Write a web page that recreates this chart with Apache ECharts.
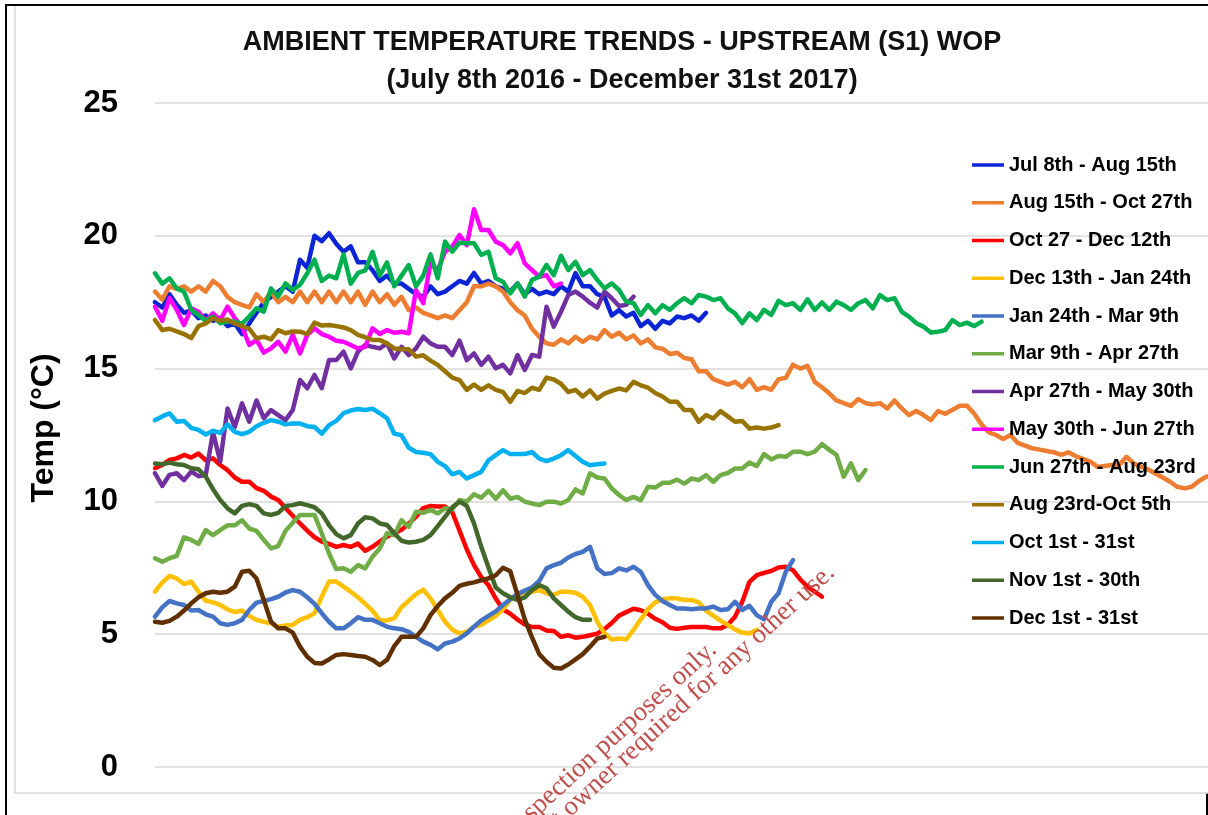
<!DOCTYPE html>
<html><head><meta charset="utf-8">
<script src="https://cdn.jsdelivr.net/npm/echarts@6/dist/echarts.min.js"></script>
<style>html,body{margin:0;padding:0;background:#fff}#c{width:1208px;height:815px}</style>
</head><body><div id="c"></div><script>
// Legend / series names
const seriesNames = ['Jul 8th - Aug 15th','Aug 15th - Oct 27th','Oct 27 - Dec 12th','Dec 13th - Jan 24th','Jan 24th - Mar 9th','Mar 9th - Apr 27th','Apr 27th - May 30th','May 30th - Jun 27th','Jun 27th - Aug 23rd','Aug 23rd-Oct 5th','Oct 1st - 31st','Nov 1st - 30th','Dec 1st - 31st'];
// y-axis ticks
const yTicks = [0,5,10,15,20,25];
// Temperature readings (°C), one value every half day from the start of each period
const jul8Aug15 = [17.5,17.3,17.8,17.4,17.1,17.2,16.9,17.0,16.8,16.9,16.6,16.7,16.3,16.7,17.1,17.5,17.7,17.9,18.1,17.9,19.1,18.8,20.0,19.8,20.1,19.7,19.4,19.6,19.0,19.0,18.7,18.3,18.5,18.2,18.2,18.0,17.8,17.7,18.1,17.8,
17.9,18.1,18.3,18.2,18.6,18.2,18.3,18.1,18.0,17.9,18.2,17.8,18.0,17.8,17.9,17.8,18.1,17.9,18.6,18.1,18.1,17.8,17.7,17.0,17.2,16.96,17.1,16.6,16.8,16.5,16.8,16.7,16.96,16.9,17.0,16.8,17.1];
const aug15Oct27 = [17.9,17.6,18.1,18.0,18.1,17.9,18.1,17.9,18.3,18.1,17.7,17.5,17.4,17.3,17.8,17.5,17.9,17.5,17.7,17.5,17.9,17.5,17.9,17.5,17.9,17.5,17.9,17.5,17.9,17.4,17.9,17.5,17.8,17.4,17.7,17.2,17.3,17.1,17.0,16.9,
17.0,16.9,17.2,17.5,18.1,18.1,18.2,18.1,17.9,17.5,17.2,17.0,16.5,16.2,15.95,15.9,16.1,15.95,16.2,16.0,16.2,16.1,16.45,16.2,16.35,16.1,16.25,15.95,16.1,15.8,15.75,15.55,15.6,15.4,15.35,14.9,14.9,
14.6,14.5,14.4,14.5,14.3,14.6,14.2,14.3,14.2,14.6,14.65,15.15,15.0,15.1,14.5,14.3,14.07,13.8,13.7,13.6,13.85,13.7,13.65,13.7,13.5,13.8,13.5,13.25,13.4,13.25,13.06,13.4,13.3,13.45,13.6,13.6,13.3,12.9,12.6,12.5,12.35,12.5,12.2,12.1,12.0,11.95,11.9,
11.85,11.75,11.85,11.7,11.6,11.5,11.3,11.33,11.37,11.37,11.68,11.43,11.3,11.2,11.05,10.9,10.74,10.55,10.49,10.55,10.77,10.93,11.0];
const oct27Dec12 = [11.25,11.37,11.56,11.62,11.75,11.65,11.8,11.55,11.62,11.37,11.18,10.9,10.74,10.74,10.5,10.4,10.18,10.05,9.75,9.46,9.17,8.9,8.65,8.49,8.4,8.29,8.36,8.29,8.41,8.14,8.29,8.49,8.67,8.8,8.93,9.17,9.42,9.75,9.83,9.81,
9.81,9.6,8.9,8.2,7.6,7.15,6.84,6.34,5.93,5.77,5.55,5.37,5.27,5.27,5.14,5.12,4.9,4.96,4.87,4.9,4.96,5.02,5.2,5.42,5.7,5.83,5.96,5.9,5.77,5.58,5.45,5.24,5.2,5.24,5.27,5.27,5.27,5.22,5.22,5.35,5.66,6.22,6.97,7.22,7.31,7.38,7.51,7.54,7.41,7.06,6.79,6.6,6.41];
const dec13Jan24 = [6.6,6.94,7.2,7.1,6.89,6.98,6.6,6.26,6.2,6.1,5.94,5.83,5.89,5.69,5.54,5.47,5.41,5.28,5.33,5.35,5.54,5.64,5.79,6.42,6.98,6.98,6.79,6.6,6.39,6.14,5.89,5.52,5.52,5.6,6.02,6.26,6.51,6.68,6.35,5.91,
5.47,5.18,5.03,5.09,5.28,5.35,5.52,5.69,5.94,6.29,6.51,6.54,6.6,6.66,6.54,6.48,6.6,6.6,6.56,6.41,6.1,5.47,5.03,4.8,4.84,4.8,5.16,5.56,5.94,6.2,6.32,6.35,6.35,6.29,6.29,6.2,5.89,5.7,5.51,5.35,5.18,5.06,5.03,5.16];
const jan24Mar9 = [5.66,6.01,6.25,6.16,6.1,5.89,5.91,5.75,5.66,5.41,5.35,5.41,5.54,5.91,6.19,6.25,6.32,6.41,6.57,6.66,6.6,6.39,6.14,5.79,5.47,5.22,5.22,5.41,5.64,5.54,5.54,5.41,5.28,5.22,5.19,5.09,4.9,4.72,4.6,4.43,
4.65,4.72,4.84,5.03,5.28,5.52,5.69,5.86,6.1,6.32,6.51,6.64,6.76,7.01,7.48,7.6,7.69,7.89,8.02,8.1,8.29,7.48,7.27,7.3,7.48,7.4,7.54,7.35,6.85,6.48,6.25,6.1,5.97,5.97,5.94,5.97,5.97,6.04,5.91,5.94,6.22,5.91,6.07,5.72,5.56,6.22,6.54,7.35,7.79];
const mar9Apr27 = [7.86,7.73,7.86,7.95,8.65,8.55,8.4,8.92,8.73,8.92,9.1,9.1,9.29,8.98,8.89,8.55,8.23,8.32,8.89,9.2,9.49,9.49,9.49,8.8,8.04,7.45,7.48,7.35,7.6,7.48,7.92,8.23,8.8,8.73,9.29,9.04,9.61,9.57,9.68,9.55,
9.74,9.7,10.05,9.99,10.27,10.14,10.4,10.1,10.42,10.1,10.17,9.99,9.92,9.86,9.99,9.99,9.92,10.05,10.45,10.3,11.06,10.9,10.86,10.49,10.24,10.05,10.17,10.05,10.55,10.52,10.7,10.7,10.82,10.67,10.86,10.8,10.99,10.74,10.99,11.07,
11.24,11.24,11.46,11.33,11.78,11.58,11.71,11.68,11.87,11.87,11.78,11.87,12.16,11.94,11.75,10.93,11.43,10.8,11.18];
const apr27May30 = [11.06,10.58,11.0,11.06,10.8,11.12,10.95,11.0,12.6,11.5,13.5,12.8,13.69,13.0,13.8,13.13,13.44,13.25,13.06,13.44,14.57,14.26,14.76,14.26,15.32,15.32,15.64,15.01,15.64,15.89,15.82,15.76,15.95,15.38,15.82,15.51,15.76,16.2,15.95,15.82,
15.82,15.51,16.05,15.32,15.57,15.14,15.45,15.01,15.14,14.82,15.51,14.95,15.51,15.45,17.33,16.58,17.14,17.77,17.9,17.71,17.48,17.3,17.9,17.65,17.36,17.4,17.71];
const may30Jun27 = [17.33,16.8,17.65,17.21,16.64,17.27,17.14,16.8,17.08,16.83,17.33,16.9,16.58,15.89,16.08,15.6,15.76,16.01,15.64,16.27,15.57,16.27,16.52,16.3,16.2,16.05,16.01,15.89,15.76,15.82,16.52,16.3,16.45,16.35,16.39,16.33,17.96,17.46,18.96,18.71,
19.4,19.59,20.03,19.65,21.0,20.22,20.22,19.78,19.65,19.34,19.72,18.96,18.71,18.46,18.52,18.1,18.2];
const jun27Aug23 = [18.59,18.2,18.4,18.02,17.9,17.21,17.02,16.8,16.96,16.71,16.77,16.77,16.69,16.96,17.27,17.14,18.02,17.71,18.21,17.96,18.15,18.59,19.1,18.3,18.5,18.4,19.3,18.2,18.6,18.7,19.4,18.5,19.0,18.1,18.5,18.9,18.1,18.5,19.3,18.4,
19.78,19.4,19.74,19.72,19.72,19.28,19.4,18.4,18.27,17.83,18.21,17.71,18.34,18.46,18.9,18.52,19.25,18.71,19.02,18.52,18.71,18.34,18.02,18.21,17.96,17.52,17.46,17.02,17.39,17.08,17.39,17.21,17.46,17.65,17.46,17.77,17.71,17.58,17.65,17.27,
17.08,16.71,17.08,16.83,17.21,17.02,17.55,17.39,17.46,17.21,17.61,17.21,17.49,17.21,17.52,17.39,17.21,17.46,17.58,17.27,17.77,17.58,17.65,17.14,16.96,16.71,16.58,16.36,16.39,16.45,16.83,16.64,16.73,16.6,16.77];
const aug23Oct5 = [16.83,16.45,16.5,16.4,16.3,16.15,16.6,16.7,16.9,16.8,16.85,16.7,16.6,16.5,16.14,16.2,16.1,16.45,16.33,16.4,16.39,16.3,16.73,16.62,16.64,16.6,16.55,16.45,16.27,16.18,16.08,16.08,15.95,15.76,15.73,15.73,15.45,15.5,15.3,15.14,
14.9,14.66,14.57,14.2,14.4,14.2,14.37,14.2,14.12,13.75,14.16,14.08,14.28,14.2,14.66,14.59,14.43,14.12,14.2,13.95,14.18,13.87,14.06,14.16,14.25,14.18,14.5,14.37,14.28,14.08,13.95,13.75,13.75,13.44,13.44,13.0,13.25,13.12,13.4,13.2,
13.0,13.03,12.74,12.78,12.74,12.78,12.87];
const oct1Oct31 = [13.06,13.2,13.32,13.0,13.03,12.77,12.69,12.52,12.66,12.58,12.9,12.62,12.53,12.62,12.83,12.96,13.06,13.0,12.9,12.93,12.93,12.83,12.8,12.55,12.87,13.03,13.32,13.42,13.48,13.44,13.49,13.32,13.13,12.55,12.49,12.02,11.86,11.83,11.78,11.49,
11.33,11.02,11.11,10.86,10.99,11.11,11.55,11.74,11.93,11.78,11.78,11.78,11.86,11.61,11.52,11.61,11.74,11.93,11.71,11.49,11.36,11.4,11.43];
const nov1Nov30 = [11.43,11.4,11.46,11.4,11.37,11.25,11.21,10.93,10.46,10.05,9.74,9.55,9.83,9.9,9.83,9.55,9.49,9.57,9.83,9.86,9.93,9.86,9.78,9.55,9.11,8.77,8.61,8.73,9.17,9.4,9.36,9.17,9.11,8.8,8.52,8.45,8.48,8.55,8.73,9.07,
9.42,9.78,9.99,9.83,9.17,8.29,7.51,6.76,6.54,6.39,6.29,6.39,6.66,6.85,6.73,6.35,6.1,5.85,5.64,5.54,5.54];
const dec1Dec31 = [5.47,5.43,5.5,5.66,5.89,6.16,6.39,6.54,6.6,6.56,6.6,6.79,7.35,7.39,7.1,6.29,5.47,5.22,5.22,5.06,4.53,4.15,3.92,3.9,4.05,4.22,4.25,4.22,4.18,4.15,4.03,3.84,4.03,4.55,4.9,4.9,4.9,5.22,5.72,6.06,
6.35,6.56,6.82,6.9,6.95,7.03,7.1,7.22,7.5,7.37,6.48,5.56,4.88,4.25,3.96,3.74,3.71,3.86,4.05,4.25,4.53,4.84,4.9];

const allValues = [jul8Aug15,aug15Oct27,oct27Dec12,dec13Jan24,jan24Mar9,mar9Apr27,apr27May30,may30Jun27,jun27Aug23,aug23Oct5,oct1Oct31,nov1Nov30,dec1Dec31];
const colors = ['#0B24D4','#ED7D31','#FF0000','#FFC000','#4472C4','#70AD47','#7030A0','#FF00FF','#00B050','#997300','#00B0F0','#43682B','#603000'];

const FONT = '"Liberation Sans", Arial, sans-serif';
const WM_FONT = '27px "Liberation Serif", "Times New Roman", serif';
const WM_ANGLE = 42.5 * Math.PI / 180;
const chart = echarts.init(document.getElementById('c'), null, {renderer:'canvas'});
const option = {
  animation:false,
  backgroundColor:'#ffffff',
  title:{
    text:'AMBIENT TEMPERATURE TRENDS - UPSTREAM (S1) WOP\n(July 8th 2016 - December 31st 2017)',
    left:617, top:19, textAlign:'center',
    textStyle:{fontFamily:FONT, fontWeight:'bold', fontSize:27, lineHeight:38, color:'#111'}
  },
  legend:{
    orient:'vertical', left:972, top:155, padding:0, icon:'rect', itemWidth:32, itemHeight:3.5, itemGap:17.75,
    textStyle:{fontFamily:FONT, fontWeight:'bold', fontSize:20, lineHeight:20, color:'#000'},
    data:seriesNames
  },
  grid:{left:155, right:0, top:103, bottom:48},
  xAxis:{type:'value', min:0, max:145.24, show:false},
  yAxis:{
    type:'value', min:yTicks[0], max:yTicks[yTicks.length-1], interval:5,
    axisLine:{show:false}, axisTick:{show:false},
    splitLine:{lineStyle:{color:'#D9D9D9', width:1.5}},
    axisLabel:{margin:37, fontSize:31, fontWeight:'bold', color:'#000', fontFamily:FONT},
    name:'Temp (°C)', nameLocation:'middle', nameRotate:90, nameGap:95,
    nameTextStyle:{fontSize:32, fontWeight:'bold', color:'#000', fontFamily:FONT, padding:[0,0,0,14]}
  },
  series: allValues.map((vals, k) => ({
    name: seriesNames[k], type:'line', symbol:'none', smooth:false,
    color: colors[k],
    lineStyle:{width:4.5, color:colors[k], cap:'round', join:'round'},
    data: vals.map((v,i)=>[i,v])
  })),
  graphic:[
    {type:'polyline', shape:{points:[[6,815],[6,5],[1208,5]]}, style:{stroke:'#000', lineWidth:2, fill:null}, silent:true, z:1},
    {type:'line', shape:{x1:1207,y1:793,x2:1207,y2:815}, style:{stroke:'#000', lineWidth:2}, silent:true, z:1},
    {type:'polyline', shape:{points:[[15,6],[15,793],[1208,793]]}, style:{stroke:'#D9D9D9', lineWidth:1.5, fill:null}, silent:true, z:1},
    {type:'text', x:713, y:646, rotation:WM_ANGLE, z:100, silent:true,
      style:{text:'For inspection purposes only.', fill:'#C0504D', font:WM_FONT, textAlign:'right', textVerticalAlign:'middle'}},
    {type:'text', x:831, y:569, rotation:WM_ANGLE, z:100, silent:true,
      style:{text:'Consent of copyright owner required for any other use.', fill:'#C0504D', font:WM_FONT, textAlign:'right', textVerticalAlign:'middle'}}
  ]
};
chart.setOption(option);
</script></body></html>
